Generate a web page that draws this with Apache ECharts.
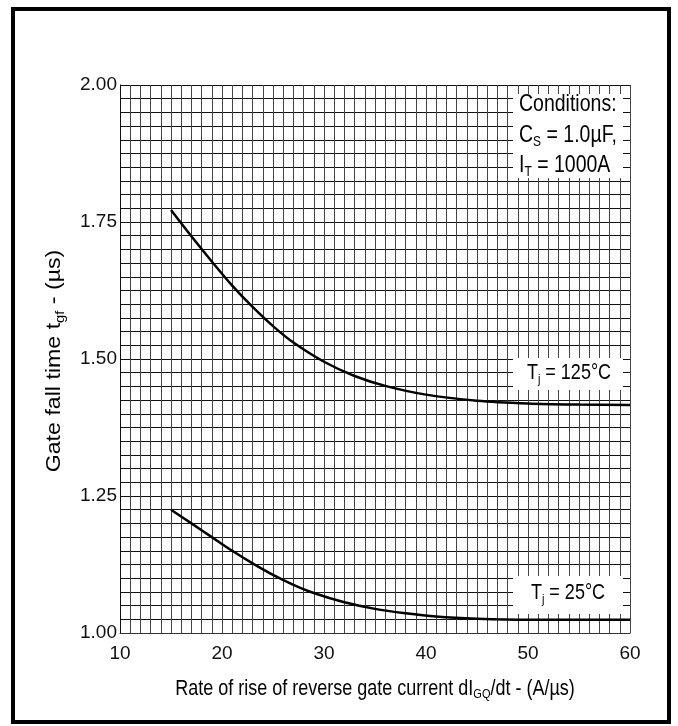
<!DOCTYPE html>
<html>
<head>
<meta charset="utf-8">
<script src="https://cdn.jsdelivr.net/npm/echarts@6/dist/echarts.min.js"></script>
<style>
html,body{margin:0;padding:0;background:#fff;}
#chart{width:678px;height:726px;}
</style>
</head>
<body>
<div id="chart"></div>
<script>
// Data
const xTicks = [10, 20, 30, 40, 50, 60];
const yTicks = [1.00, 1.25, 1.50, 1.75, 2.00];
const x125 = [15, 17, 19, 21, 23, 25, 27, 30, 33, 36, 40, 45, 50, 55, 60];
const y125 = [1.772, 1.724, 1.678, 1.634, 1.595, 1.560, 1.530, 1.495, 1.469, 1.451, 1.435, 1.424, 1.419, 1.417, 1.416];
const x25 = [15, 17, 19, 21, 23, 25, 27, 29, 32, 35, 38, 41, 45, 50, 55, 60];
const y25 = [1.225, 1.200, 1.175, 1.150, 1.127, 1.106, 1.088, 1.073, 1.056, 1.044, 1.036, 1.030, 1.026, 1.024, 1.024, 1.024];
const seriesNames = ['Tj = 125°C', 'Tj = 25°C'];
const xTitle = '{n|Rate of rise of reverse gate current dI}{s|GQ}{n|/dt - (A/µs)}';
const yTitle = '{n|Gate fall time t}{s|gf}{n| - (µs)}';
const condLines = ['{n|Conditions:}', '{n|C}{s|S}{n| = 1.0µF,}', '{n|I}{s|T}{n| = 1000A}'];
const label125 = '{n|T}{s|j}{n| = 125°C}';
const label25 = '{n|T}{s|j}{n| = 25°C}';

const FONT = '"Liberation Sans", Arial, sans-serif';
const chart = echarts.init(document.getElementById('chart'), null, {renderer: 'canvas'});

function pairs(xs, ys) { return xs.map((x, i) => [x, ys[i]]); }
function rich(size, subSize, subPad) {
  return {
    n: {fontFamily: FONT, fontSize: size, color: '#111'},
    s: {fontFamily: FONT, fontSize: subSize, color: '#111', padding: [subPad, 0, 0, 0]}
  };
}

const vGrid = {show: true, lineStyle: {color: '#444', width: 1}};
const hGrid = {show: true, lineStyle: {color: '#111', width: 1}};

const graphics = [
  {type: 'rect', shape: {x: 13, y: 9, width: 656, height: 713},
   style: {fill: 'none', stroke: '#000', lineWidth: 4}, z: 100},
  // axis titles
  {type: 'text', x: 375, y: 689, scaleY: 1.18, z: 20,
   style: {text: xTitle, align: 'center', verticalAlign: 'middle', rich: rich(18, 11, 10)}},
  {type: 'text', x: 55, y: 361, rotation: Math.PI / 2, scaleX: 1.22, scaleY: 1.05, z: 20,
   style: {text: yTitle, align: 'center', verticalAlign: 'middle', rich: rich(19, 12, 10)}},
  // Conditions box
  {type: 'rect', shape: {x: 513, y: 94, width: 110, height: 84}, style: {fill: '#fff'}, z: 50},
  // Tj = 125°C box
  {type: 'rect', shape: {x: 513, y: 358, width: 110, height: 32}, style: {fill: '#fff'}, z: 50},
  {type: 'text', x: 569, y: 373, scaleY: 1.22, z: 51,
   style: {text: label125, align: 'center', verticalAlign: 'middle', rich: rich(18, 11, 10)}},
  // Tj = 25°C box
  {type: 'rect', shape: {x: 513, y: 576, width: 110, height: 38}, style: {fill: '#fff'}, z: 50},
  {type: 'text', x: 568, y: 593, scaleY: 1.22, z: 51,
   style: {text: label25, align: 'center', verticalAlign: 'middle', rich: rich(18, 11, 10)}}
];
const condY = [105, 136, 166];
condLines.forEach((t, i) => {
  graphics.push({type: 'text', x: 519, y: condY[i], scaleY: 1.2, z: 51,
    style: {text: t, align: 'left', verticalAlign: 'middle', rich: rich(19.5, 12, 10)}});
});

const option = {
  animation: false,
  backgroundColor: '#fff',
  grid: {left: 120, right: 48, top: 85, bottom: 93, containLabel: false},
  xAxis: {
    type: 'value',
    min: xTicks[0], max: xTicks[xTicks.length - 1], interval: 10,
    axisLine: {show: true, lineStyle: {color: '#333', width: 1}},
    axisTick: {show: false},
    axisLabel: {fontFamily: FONT, fontSize: 19, color: '#111', margin: 11},
    splitLine: vGrid,
    minorTick: {show: false, splitNumber: 10},
    minorSplitLine: vGrid
  },
  yAxis: {
    type: 'value',
    min: yTicks[0], max: yTicks[yTicks.length - 1], interval: 0.25,
    axisLine: {show: true, lineStyle: {color: '#111', width: 1}},
    axisTick: {show: false},
    axisLabel: {fontFamily: FONT, fontSize: 19, color: '#111', margin: 3,
      formatter: v => v.toFixed(2)},
    splitLine: hGrid,
    minorTick: {show: false, splitNumber: 10},
    minorSplitLine: hGrid
  },
  series: [
    {name: seriesNames[0], type: 'line', data: pairs(x125, y125), smooth: 0.3,
     showSymbol: false, lineStyle: {color: '#000', width: 2.5}, z: 5},
    {name: seriesNames[1], type: 'line', data: pairs(x25, y25), smooth: 0.3,
     showSymbol: false, lineStyle: {color: '#000', width: 2.5}, z: 5}
  ],
  graphic: graphics
};
chart.setOption(option);
</script>
</body>
</html>
